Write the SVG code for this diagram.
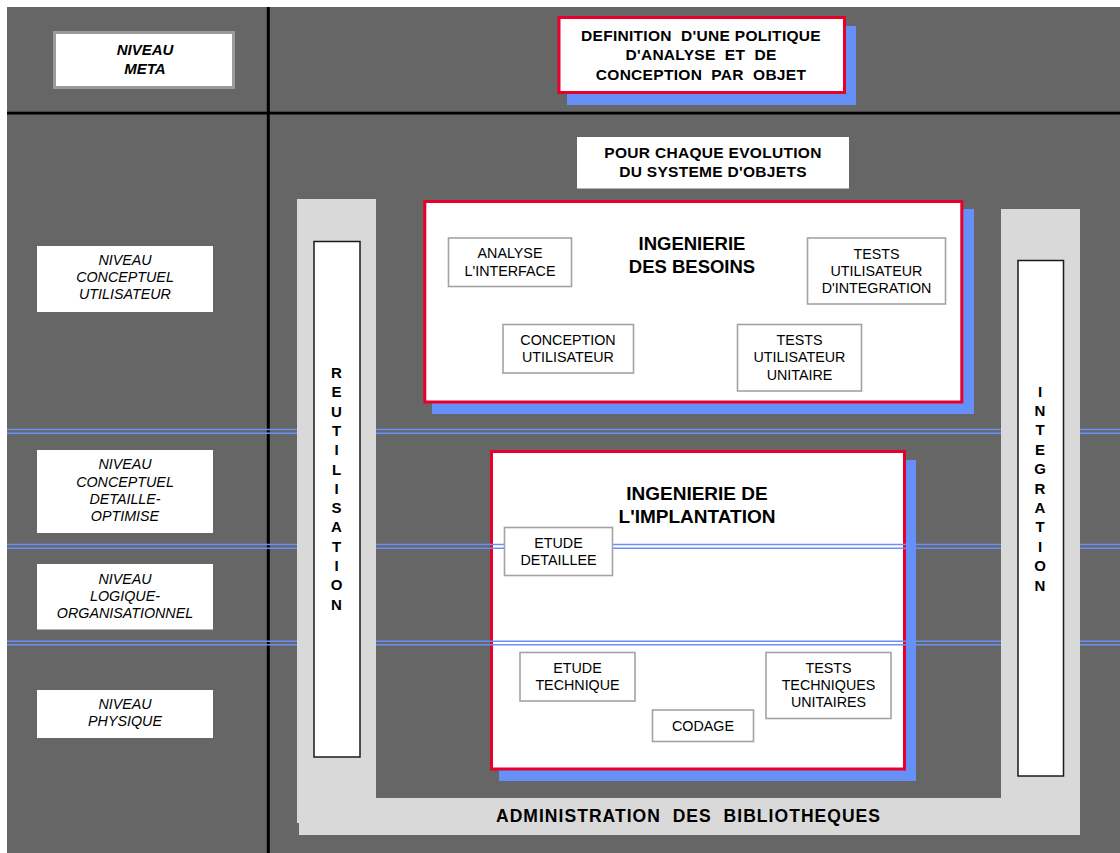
<svg xmlns="http://www.w3.org/2000/svg" width="1120" height="853" viewBox="0 0 1120 853">
  <defs>
    <style>
      text { font-family: "Liberation Sans", Arial, sans-serif; fill: #000; text-anchor: middle; }
      .lvl { font-size: 14.3px; font-style: italic; }
      .lvlbox { fill: #fff; }
      .title { font-size: 15.5px; font-weight: bold; letter-spacing: 0.3px; }
      .big { font-weight: bold; }
      .task { font-size: 14.3px; }
      .taskbox { fill: #fff; stroke: #a3a3a3; stroke-width: 1.6; }
      .frame { fill: #fff; stroke: #e8002c; stroke-width: 3; }
      .shadow { fill: #6690f8; }
      .sep { stroke: #6a8ff5; stroke-width: 1.5; fill: none; }
      .col { fill: #fff; stroke: #1a1a1a; stroke-width: 1.5; }
      .vert { font-size: 15px; font-weight: bold; }
    </style>
  </defs>

  <!-- page -->
  <rect x="0" y="0" width="1120" height="853" fill="#fff"/>
  <rect x="7" y="7" width="1113" height="846" fill="#666"/>

  <!-- grid lines -->
  <g id="grid">
    <rect x="266.8" y="7" width="3" height="846" fill="#000"/>
    <rect x="7" y="111.7" width="1113" height="2.8" fill="#000"/>
  </g>

  <!-- level labels -->
  <g id="niveau-meta">
    <rect x="54.5" y="32.5" width="179" height="55" fill="#fff" stroke="#9a9a9a" stroke-width="3"/>
    <text x="145" y="55" font-size="15" font-weight="bold" font-style="italic">NIVEAU</text>
    <text x="145" y="74" font-size="15" font-weight="bold" font-style="italic">META</text>
  </g>
  <g id="niveau-conceptuel-utilisateur">
    <rect class="lvlbox" x="37" y="246" width="176" height="66"/>
    <text class="lvl" x="125" y="265">NIVEAU</text>
    <text class="lvl" x="125" y="282">CONCEPTUEL</text>
    <text class="lvl" x="125" y="298.5">UTILISATEUR</text>
  </g>
  <g id="niveau-conceptuel-detaille">
    <rect class="lvlbox" x="37" y="450" width="176" height="83"/>
    <text class="lvl" x="125" y="469">NIVEAU</text>
    <text class="lvl" x="125" y="486.5">CONCEPTUEL</text>
    <text class="lvl" x="125" y="504">DETAILLE-</text>
    <text class="lvl" x="125" y="521">OPTIMISE</text>
  </g>
  <g id="niveau-logique">
    <rect class="lvlbox" x="37" y="564" width="176" height="65.5"/>
    <text class="lvl" x="125" y="584">NIVEAU</text>
    <text class="lvl" x="125" y="601">LOGIQUE-</text>
    <text class="lvl" x="125" y="618">ORGANISATIONNEL</text>
  </g>
  <g id="niveau-physique">
    <rect class="lvlbox" x="37" y="690" width="176" height="48"/>
    <text class="lvl" x="125" y="708.5">NIVEAU</text>
    <text class="lvl" x="125" y="726">PHYSIQUE</text>
  </g>

  <!-- method policy -->
  <g id="politique">
    <rect class="shadow" x="567" y="26" width="289" height="79"/>
    <rect class="frame" x="559" y="17.5" width="285.5" height="75"/>
    <text class="title" x="701" y="40.5" xml:space="preserve">DEFINITION  D'UNE POLITIQUE</text>
    <text class="title" x="701" y="60" xml:space="preserve">D'ANALYSE  ET  DE</text>
    <text class="title" x="701" y="79.5" xml:space="preserve">CONCEPTION  PAR  OBJET</text>
  </g>

  <g id="evolution">
    <rect x="577" y="137" width="272" height="51.5" fill="#fff"/>
    <text class="title" x="713" y="157.5">POUR CHAQUE EVOLUTION</text>
    <text class="title" x="713" y="176.5">DU SYSTEME D'OBJETS</text>
  </g>

  <!-- requirements engineering -->
  <g id="ingenierie-besoins">
    <rect class="shadow" x="432" y="209" width="542" height="205"/>
    <rect class="frame" x="424.8" y="201.5" width="537" height="200.5"/>
    <text class="big" x="692" y="250" font-size="18.5">INGENIERIE</text>
    <text class="big" x="692" y="272.5" font-size="18.5">DES BESOINS</text>
  </g>
  <g id="analyse-interface">
    <rect class="taskbox" x="448.5" y="238" width="123" height="48.5"/>
    <text class="task" x="510" y="258">ANALYSE</text>
    <text class="task" x="510" y="275.5">L'INTERFACE</text>
  </g>
  <g id="conception-utilisateur">
    <rect class="taskbox" x="503" y="324.5" width="130.5" height="48.5"/>
    <text class="task" x="568" y="344.5">CONCEPTION</text>
    <text class="task" x="568" y="362">UTILISATEUR</text>
  </g>
  <g id="tests-utilisateur-integration">
    <rect class="taskbox" x="807.5" y="238" width="138" height="66"/>
    <text class="task" x="876.5" y="258.5">TESTS</text>
    <text class="task" x="876.5" y="276">UTILISATEUR</text>
    <text class="task" x="876.5" y="292.5">D'INTEGRATION</text>
  </g>
  <g id="tests-utilisateur-unitaire">
    <rect class="taskbox" x="737.5" y="324.5" width="124" height="66.5"/>
    <text class="task" x="799.5" y="344.5">TESTS</text>
    <text class="task" x="799.5" y="362">UTILISATEUR</text>
    <text class="task" x="799.5" y="379.5">UNITAIRE</text>
  </g>

  <!-- implementation engineering -->
  <g id="ingenierie-implantation">
    <rect class="shadow" x="499" y="460" width="417" height="321"/>
    <rect class="frame" x="491.5" y="451.5" width="413" height="317.5"/>
    <text class="big" x="697" y="500" font-size="19">INGENIERIE DE</text>
    <text class="big" x="697" y="523" font-size="19">L'IMPLANTATION</text>
  </g>

  <!-- level separators -->
  <g id="connectors">
    <path class="sep" d="M7,429.6H1120M7,433.2H1120"/>
    <path class="sep" d="M7,544.6H1120M7,548.2H1120"/>
    <path class="sep" d="M7,641.2H1120M7,644.8H1120"/>
  </g>

  <g id="etude-detaillee">
    <rect class="taskbox" x="504.5" y="527.5" width="108" height="48"/>
    <text class="task" x="558.5" y="547.5">ETUDE</text>
    <text class="task" x="558.5" y="564.5">DETAILLEE</text>
  </g>
  <g id="etude-technique">
    <rect class="taskbox" x="520" y="652.5" width="115" height="48.5"/>
    <text class="task" x="577.5" y="672.5">ETUDE</text>
    <text class="task" x="577.5" y="689.5">TECHNIQUE</text>
  </g>
  <g id="codage">
    <rect class="taskbox" x="652.5" y="710" width="101" height="31.5"/>
    <text class="task" x="703" y="731">CODAGE</text>
  </g>
  <g id="tests-techniques-unitaires">
    <rect class="taskbox" x="766" y="652.5" width="125" height="66"/>
    <text class="task" x="828.5" y="672.5">TESTS</text>
    <text class="task" x="828.5" y="689.5">TECHNIQUES</text>
    <text class="task" x="828.5" y="706.5">UNITAIRES</text>
  </g>

  <!-- library administration frame -->
  <g id="administration-bibliotheques">
    <path d="M297,199H376V798H1001V209H1080V835H299V823H297Z" fill="#d9d9d9"/>
    <text x="688" y="821.5" font-size="17.5" font-weight="bold" textLength="384" lengthAdjust="spacing" xml:space="preserve">ADMINISTRATION  DES  BIBLIOTHEQUES</text>
  </g>

  <g id="reutilisation">
    <rect class="col" x="314" y="241.5" width="46" height="515.5"/>
    <text class="vert" y="378">
      <tspan x="336.5">R</tspan><tspan x="336.5" dy="19.3">E</tspan><tspan x="336.5" dy="19.3">U</tspan><tspan x="336.5" dy="19.3">T</tspan><tspan x="336.5" dy="19.3">I</tspan><tspan x="336.5" dy="19.3">L</tspan><tspan x="336.5" dy="19.3">I</tspan><tspan x="336.5" dy="19.3">S</tspan><tspan x="336.5" dy="19.3">A</tspan><tspan x="336.5" dy="19.3">T</tspan><tspan x="336.5" dy="19.3">I</tspan><tspan x="336.5" dy="19.3">O</tspan><tspan x="336.5" dy="19.3">N</tspan>
    </text>
  </g>

  <g id="integration">
    <rect class="col" x="1018" y="260.5" width="45.5" height="515.5"/>
    <text class="vert" y="396.5">
      <tspan x="1040">I</tspan><tspan x="1040" dy="19.4">N</tspan><tspan x="1040" dy="19.4">T</tspan><tspan x="1040" dy="19.4">E</tspan><tspan x="1040" dy="19.4">G</tspan><tspan x="1040" dy="19.4">R</tspan><tspan x="1040" dy="19.4">A</tspan><tspan x="1040" dy="19.4">T</tspan><tspan x="1040" dy="19.4">I</tspan><tspan x="1040" dy="19.4">O</tspan><tspan x="1040" dy="19.4">N</tspan>
    </text>
  </g>
</svg>
